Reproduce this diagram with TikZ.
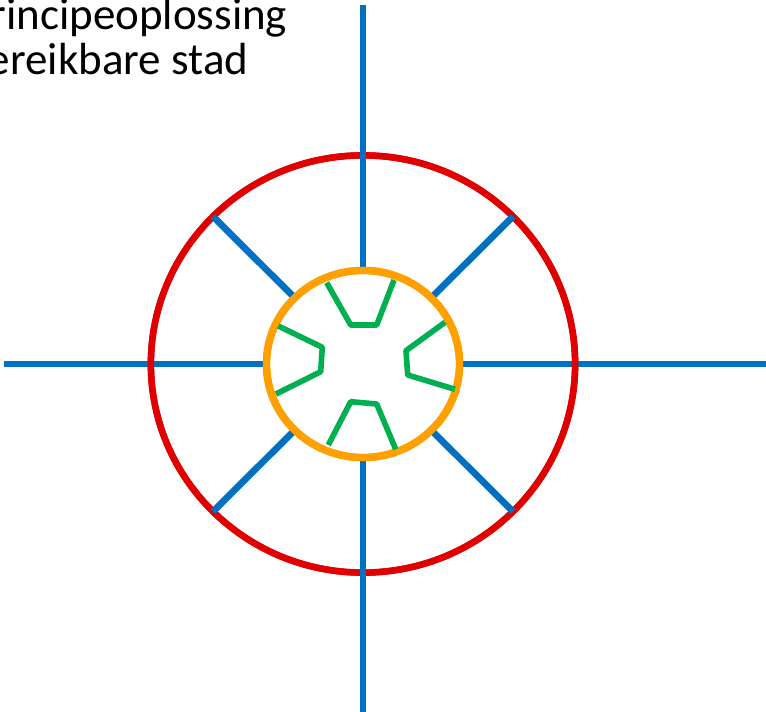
\documentclass[tikz,border=0pt]{standalone}
\usepackage{fontspec}
\setmainfont{Carlito}
\definecolor{spokeblue}{HTML}{0070C0}
\definecolor{ringred}{HTML}{E00000}
\definecolor{ringorange}{HTML}{FFA000}
\definecolor{gategreen}{HTML}{00B050}
\usetikzlibrary{shapes.geometric}
\tikzset{
  ring_red/.style={ellipse,draw=ringred,line width=1.85pt,inner sep=0pt,outer sep=0pt,
    minimum width=4.24cm,minimum height=4.17cm},
  ring_orange/.style={ellipse,draw=ringorange,line width=2.1pt,inner sep=0pt,outer sep=0pt,
    minimum width=1.93cm,minimum height=1.87cm},
  spoke/.style={draw=spokeblue,line width=1.9pt},
  gate/.style={draw=gategreen,line width=1.6pt,line join=round},
  title_txt/.style={font=\fontsize{12.8pt}{13pt}\selectfont,inner sep=0pt,anchor=base east},
}
\begin{document}
\begin{tikzpicture}[x=0.01cm,y=-0.01cm]
    \useasboundingbox (0,0) rectangle (766,712);
    \node[title_txt] (line1) at (288,29) {rincipeoplossing};
    \node[title_txt] (line2) at (249,74) {ereikbare stad};

    \coordinate (end_n) at (363,5);  \coordinate (end_s) at (363,712);
    \coordinate (end_w) at (4,364);  \coordinate (end_e) at (766,364);

    \node[ring_red] (outer) at (363,364) {};
    \node[ring_orange] (inner) at (363,364) {};

    \draw[spoke](end_w)--(inner.west);\draw[spoke](inner.east)--(end_e);
    \node[ring_red] at (outer) {};
    \draw[spoke](end_n)--(inner.north);\draw[spoke](inner.south)--(end_s);
    \draw[spoke](inner.north west)--(outer.north west);\draw[spoke](inner.north east)--(outer.north east);
    \draw[spoke](inner.south west)--(outer.south west);\draw[spoke](inner.south east)--(outer.south east);
    \node[ring_orange] at (inner) {};

    % green gates inside the inner ring
    \draw[gate](326.7,282.7)--(350.7,325)--(376.7,325)--(394,280);
    \draw[gate](278.3,326)--(322.3,347.3)--(320.7,371.7)--(276,394);
    \draw[gate](445,322.3)--(406,350.7)--(407.7,375)--(455,389.3);
    \draw[gate](328.3,445)--(350.7,401.7)--(376.7,404)--(395.7,449.3);
  \end{tikzpicture}
\end{document}
